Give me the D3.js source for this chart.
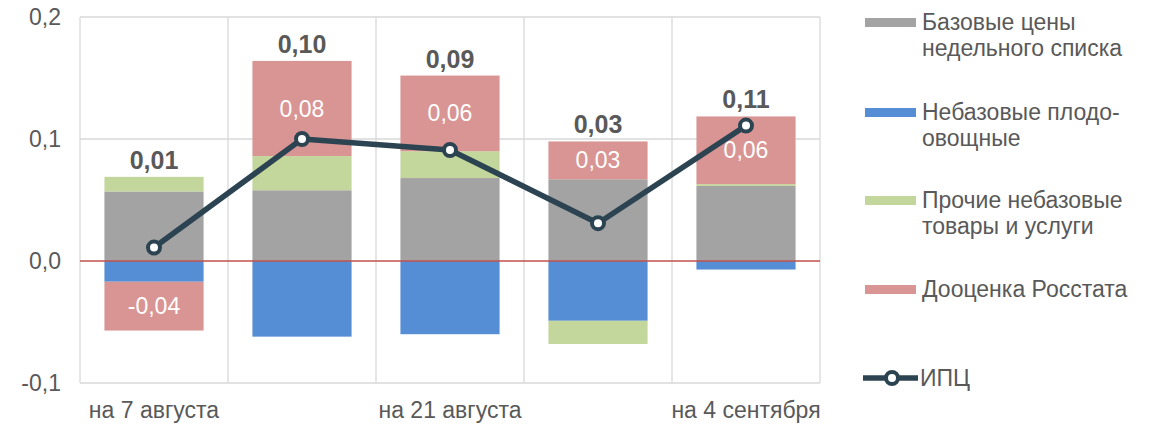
<!DOCTYPE html>
<html>
<head>
<meta charset="utf-8">
<script src="https://cdn.jsdelivr.net/npm/d3@7"></script>
<style>
  body { margin: 0; background: #fff; }
  text { font-family: "Liberation Sans", Arial, sans-serif; }
</style>
</head>
<body>
<svg id="chart" width="1164" height="427"></svg>
<script>
// categories (only every second one has a label)
let categories = ["7 авг", "14 авг", "21 авг", "28 авг", "4 сен"];
let tickLabels = ["на 7 августа", "", "на 21 августа", "", "на 4 сентября"];

// series values
let baseCore = [0.057, 0.058, 0.068, 0.067, 0.0615];
let fruitVeg = [-0.017, -0.062, -0.060, -0.049, -0.007];
let otherNonCore = [0.012, 0.028, 0.022, -0.019, 0.0015];
let rosstat = [-0.040, 0.078, 0.062, 0.031, 0.0555];
let cpi = [0.011, 0.100, 0.091, 0.031, 0.111];

let cpiLabels = ["0,01", "0,10", "0,09", "0,03", "0,11"];
let rosstatLabels = ["-0,04", "0,08", "0,06", "0,03", "0,06"];

let seriesNames = [
    ["Базовые цены", "недельного списка"],
    ["Небазовые плодо-", "овощные"],
    ["Прочие небазовые", "товары и услуги"],
    ["Дооценка Росстата"]
];
let seriesColors = ["#a3a3a3", "#558ed5", "#c3d69b", "#d99594"];
let lineColor = "#2c4452";
let textColor = "#595959";

let svg = d3.select("#chart");

let x = d3.scaleBand()
    .domain(categories)
    .range([80, 820])
    .paddingInner(0.33)
    .paddingOuter(0.165);

let y = d3.scaleLinear()
    .domain([-0.1, 0.2])
    .range([383, 17]);

// stacked values, diverging (positives up, negatives down)
let seriesData = [baseCore, fruitVeg, otherNonCore, rosstat];
let stacks = seriesData.map(() => []);
categories.forEach((c, i) => {
    let pos = 0, neg = 0;
    seriesData.forEach((s, k) => {
        let v = s[i];
        if (v >= 0) {
            stacks[k].push({ cat: c, y0: pos, y1: pos + v });
            pos += v;
        } else {
            stacks[k].push({ cat: c, y0: neg + v, y1: neg });
            neg += v;
        }
    });
});
let posTotals = categories.map((c, i) =>
    d3.sum(seriesData, s => Math.max(0, s[i])));

// gridlines
let step = x.step();
let gridX = categories.map(c => x(c) - (step - x.bandwidth()) / 2);
gridX.push(820);
svg.append("g")
    .selectAll("line")
    .data(gridX)
    .join("line")
    .attr("x1", d => d).attr("x2", d => d)
    .attr("y1", y(0.2)).attr("y2", y(-0.1))
    .attr("stroke", "#d9d9d9").attr("stroke-width", 1.3);

svg.append("g")
    .selectAll("line")
    .data([0.2, 0.1, -0.1])
    .join("line")
    .attr("x1", 80).attr("x2", 820)
    .attr("y1", d => y(d)).attr("y2", d => y(d))
    .attr("stroke", "#d9d9d9").attr("stroke-width", 1.3);

// y axis
let yAxis = d3.axisLeft(y)
    .tickValues([-0.1, 0, 0.1, 0.2])
    .tickFormat(d => d3.format(".1f")(d).replace(".", ",").replace("−", "-"))
    .tickSize(0)
    .tickPadding(19);
svg.append("g")
    .attr("transform", "translate(80,0)")
    .call(yAxis)
    .call(g => g.select(".domain").remove())
    .selectAll("text")
    .attr("font-size", 23)
    .attr("fill", textColor);

// x axis labels
let xAxis = d3.axisBottom(x)
    .tickFormat((d, i) => tickLabels[i])
    .tickSize(0)
    .tickPadding(19);
svg.append("g")
    .attr("transform", "translate(0,383)")
    .call(xAxis)
    .call(g => g.select(".domain").remove())
    .selectAll("text")
    .attr("font-size", 23)
    .attr("fill", textColor);

// bars
stacks.forEach((st, k) => {
    svg.append("g")
        .selectAll("rect")
        .data(st)
        .join("rect")
        .attr("x", d => x(d.cat))
        .attr("width", x.bandwidth())
        .attr("y", d => y(d.y1))
        .attr("height", d => y(d.y0) - y(d.y1))
        .attr("fill", seriesColors[k]);
});

// zero line
svg.append("line")
    .attr("x1", 80).attr("x2", 820)
    .attr("y1", y(0)).attr("y2", y(0))
    .attr("stroke", "#c0504d").attr("stroke-width", 1.3);

// rosstat labels
svg.append("g")
    .selectAll("text")
    .data(stacks[3])
    .join("text")
    .attr("x", d => x(d.cat) + x.bandwidth() / 2)
    .attr("y", d => y((d.y0 + d.y1) / 2))
    .attr("dy", "0.35em")
    .attr("text-anchor", "middle")
    .attr("font-size", 23)
    .attr("fill", "#fff")
    .text((d, i) => rosstatLabels[i]);

// CPI line
let line = d3.line()
    .x((d, i) => x(categories[i]) + x.bandwidth() / 2)
    .y(d => y(d));
svg.append("path")
    .datum(cpi)
    .attr("d", line)
    .attr("fill", "none")
    .attr("stroke", lineColor)
    .attr("stroke-width", 5.5)
    .attr("stroke-linejoin", "round");
svg.append("g")
    .selectAll("circle")
    .data(cpi)
    .join("circle")
    .attr("cx", (d, i) => x(categories[i]) + x.bandwidth() / 2)
    .attr("cy", d => y(d))
    .attr("r", 6)
    .attr("fill", "#fff")
    .attr("stroke", lineColor)
    .attr("stroke-width", 4);

// CPI totals above bars
svg.append("g")
    .selectAll("text")
    .data(posTotals)
    .join("text")
    .attr("x", (d, i) => x(categories[i]) + x.bandwidth() / 2)
    .attr("y", d => y(d) - 8)
    .attr("text-anchor", "middle")
    .attr("font-size", 25)
    .attr("font-weight", "bold")
    .attr("fill", textColor)
    .text((d, i) => cpiLabels[i]);

// legend
let legendY = [22, 112, 200, 289];
let legend = svg.append("g");
seriesNames.forEach((name, k) => {
    legend.append("rect")
        .attr("x", 865).attr("y", legendY[k] - 4)
        .attr("width", 51).attr("height", 9)
        .attr("fill", seriesColors[k]);
    name.forEach((ln, j) => {
        legend.append("text")
            .attr("x", 922)
            .attr("y", legendY[k] + j * 26)
            .attr("dy", "0.35em")
            .attr("font-size", 23)
            .attr("fill", textColor)
            .text(ln);
    });
});
legend.append("line")
    .attr("x1", 863).attr("x2", 918)
    .attr("y1", 378).attr("y2", 378)
    .attr("stroke", lineColor).attr("stroke-width", 5.5);
legend.append("circle")
    .attr("cx", 892).attr("cy", 378).attr("r", 6)
    .attr("fill", "#fff").attr("stroke", lineColor).attr("stroke-width", 4);
legend.append("text")
    .attr("x", 920).attr("y", 378).attr("dy", "0.35em")
    .attr("font-size", 23).attr("fill", textColor)
    .text("ИПЦ");
</script>
</body>
</html>
